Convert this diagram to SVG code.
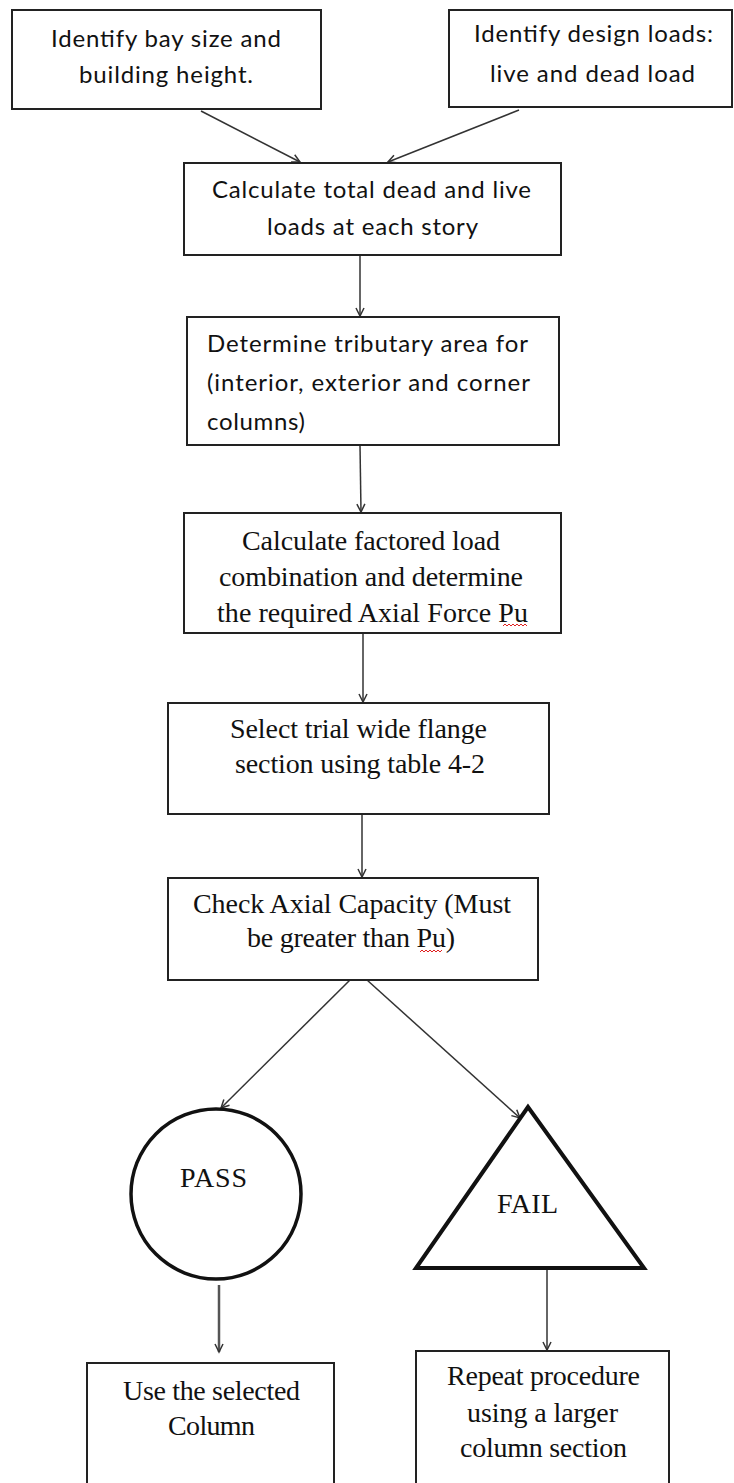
<svg xmlns="http://www.w3.org/2000/svg" width="734" height="1483" viewBox="0 0 734 1483">
  <style>
    .box { fill: #fff; stroke: #222; stroke-width: 2; }
    .bold { fill: #fff; stroke: #111; stroke-width: 3.5; }
    .sans { font-family: Lato, "Open Sans", "Liberation Sans", sans-serif; font-size: 24px; fill: #111; }
    .serif { font-family: "Liberation Serif", "DejaVu Serif", serif; font-size: 28px; fill: #111; }
    .conn { fill: none; stroke: #333; stroke-width: 1.5; marker-end: url(#arrow); }
    .squiggle { fill: none; stroke: #e02020; stroke-width: 1; }
  </style>
  <defs>
    <marker id="arrow" markerUnits="userSpaceOnUse" markerWidth="12" markerHeight="12" refX="9" refY="5" orient="auto">
      <path d="M1,1 L9,5 L1,9" fill="none" stroke="#333" stroke-width="1.5"/>
    </marker>
  </defs>
  <rect width="734" height="1483" fill="#fff"/>

  <g id="connectors">
    <line class="conn" x1="201" y1="111" x2="300" y2="162"/>
    <line class="conn" x1="519" y1="110" x2="388" y2="162"/>
    <line class="conn" x1="360" y1="255" x2="360" y2="316"/>
    <line class="conn" x1="360" y1="445" x2="361" y2="512"/>
    <line class="conn" x1="363" y1="633" x2="363" y2="702"/>
    <line class="conn" x1="362" y1="814" x2="362" y2="877"/>
    <line class="conn" x1="350" y1="980" x2="221" y2="1108"/>
    <line class="conn" x1="367" y1="980" x2="520" y2="1118"/>
    <line class="conn" x1="219" y1="1285" x2="219" y2="1352" style="stroke:#555;stroke-width:2.5"/>
    <line class="conn" x1="547" y1="1268" x2="547" y2="1350"/>
  </g>

  <g id="bay-size">
    <rect class="box" x="12" y="10" width="309" height="99"/>
    <text class="sans" x="51" y="47" textLength="230">Identify bay size and</text>
    <text class="sans" x="79" y="83" textLength="174">building  height.</text>
  </g>

  <g id="design-loads">
    <rect class="box" x="449" y="10" width="283" height="97"/>
    <text class="sans" x="474" y="42" textLength="239">Identify design loads:</text>
    <text class="sans" x="490" y="82" textLength="205">live and dead load</text>
  </g>

  <g id="story-loads">
    <rect class="box" x="184" y="163" width="377" height="92"/>
    <text class="sans" x="212" y="198" textLength="319">Calculate total dead and live</text>
    <text class="sans" x="267" y="235" textLength="211">loads at each story</text>
  </g>

  <g id="tributary-area">
    <rect class="box" x="187" y="317" width="372" height="128"/>
    <text class="sans" x="207" y="352" textLength="321">Determine  tributary area for</text>
    <text class="sans" x="207" y="391" textLength="323">(interior, exterior and corner</text>
    <text class="sans" x="207" y="430" textLength="98">columns)</text>
  </g>

  <g id="factored-load">
    <rect class="box" x="184" y="513" width="377" height="120"/>
    <text class="serif" x="242" y="550" textLength="258">Calculate  factored load</text>
    <text class="serif" x="219" y="586" textLength="304">combination and determine</text>
    <text class="serif" x="217" y="622" textLength="311">the required Axial Force Pu</text>
    <path class="squiggle" d="M503,626 l2,-2 l2,2 l2,-2 l2,2 l2,-2 l2,2 l2,-2 l2,2 l2,-2 l2,2 l2,-2 l2,2"/>
  </g>

  <g id="trial-section">
    <rect class="box" x="168" y="703" width="381" height="111"/>
    <text class="serif" x="230" y="738" textLength="257">Select trial wide flange</text>
    <text class="serif" x="235" y="773" textLength="250">section using table 4-2</text>
  </g>

  <g id="axial-capacity">
    <rect class="box" x="168" y="878" width="370" height="102"/>
    <text class="serif" x="193" y="913" textLength="318">Check Axial Capacity (Must</text>
    <text class="serif" x="247" y="947" textLength="208">be greater  than Pu)</text>
    <path class="squiggle" d="M420,952 l2,-2 l2,2 l2,-2 l2,2 l2,-2 l2,2 l2,-2 l2,2 l2,-2 l2,2 l2,-2"/>
  </g>

  <g id="pass">
    <circle class="bold" cx="216" cy="1194" r="85"/>
    <text class="serif" x="180" y="1187" textLength="67">PASS</text>
  </g>

  <g id="fail">
    <polygon class="bold" points="528,1107 416,1268 644,1268" style="stroke-width:4"/>
    <text class="serif" x="497" y="1213" textLength="61">FAIL</text>
  </g>

  <g id="use-column">
    <rect class="box" x="87" y="1363" width="247" height="130"/>
    <text class="serif" x="123" y="1400" textLength="177">Use the selected</text>
    <text class="serif" x="168" y="1435" textLength="87">Column</text>
  </g>

  <g id="repeat">
    <rect class="box" x="416" y="1351" width="253" height="142"/>
    <text class="serif" x="447" y="1385" textLength="193">Repeat procedure</text>
    <text class="serif" x="467" y="1422" textLength="151">using a larger</text>
    <text class="serif" x="460" y="1457" textLength="167">column section</text>
  </g>
</svg>
